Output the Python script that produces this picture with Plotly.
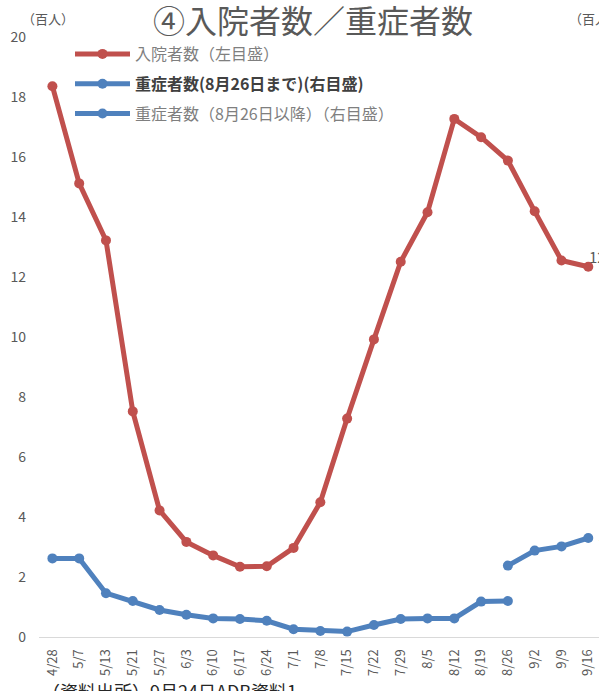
import plotly.graph_objects as go

# Weekly dates
weeks = ["4/28", "5/7", "5/13", "5/21", "5/27", "6/3", "6/10", "6/17", "6/24", "7/1",
         "7/8", "7/15", "7/22", "7/29", "8/5", "8/12", "8/19", "8/26", "9/2", "9/9", "9/16"]

# Hospitalised patients (hundreds, left axis)
hospitalised = [18.36, 15.12, 13.22, 7.52, 4.22, 3.17, 2.72, 2.34, 2.36, 2.97,
                4.49, 7.28, 9.92, 12.51, 14.16, 17.27, 16.66, 15.88, 14.19, 12.55, 12.34]

# Severe cases up to 8/26 (hundreds, right axis)
severe_old_weeks = weeks[:18]
severe_old = [1.31, 1.31, 0.73, 0.60, 0.45, 0.37, 0.31, 0.30, 0.27, 0.13,
              0.10, 0.09, 0.20, 0.30, 0.31, 0.31, 0.59, 0.60]

# Severe cases from 8/26 onwards (hundreds, right axis)
severe_new_weeks = weeks[17:]
severe_new = [1.19, 1.44, 1.51, 1.65]

RED = "#C0504D"
BLUE = "#4F81BD"
GREY = "#595959"
FONT = "Noto Sans CJK JP"

fig = go.Figure()

fig.add_trace(go.Scatter(
    x=weeks, y=hospitalised, mode="lines+markers", yaxis="y",
    name='<span style="color:#7f7f7f">入院者数（左目盛）</span>',
    line=dict(color=RED, width=5), marker=dict(color=RED, size=10),
    legendgroup="a",
))
fig.add_trace(go.Scatter(
    x=severe_old_weeks, y=severe_old, mode="lines+markers", yaxis="y2",
    name='<b><span style="color:#404040">重症者数(8月26日まで)(右目盛)</span></b>',
    line=dict(color=BLUE, width=5), marker=dict(color=BLUE, size=10),
    legendgroup="b",
))
fig.add_trace(go.Scatter(
    x=severe_new_weeks, y=severe_new, mode="lines+markers", yaxis="y2",
    name='<span style="color:#7f7f7f">重症者数（8月26日以降）（右目盛）</span>',
    line=dict(color=BLUE, width=5), marker=dict(color=BLUE, size=10),
    legendgroup="c",
))

# Value labels on the latest week
fig.add_annotation(x=weeks[-1], y=hospitalised[-1], yref="y", text=f"{hospitalised[-1]:.1f}",
                   showarrow=False, xanchor="left", yanchor="middle", xshift=-1, yshift=10,
                   font=dict(family=FONT, size=15, color=GREY))
fig.add_annotation(x=severe_new_weeks[-1], y=severe_new[-1], yref="y2", text=f"{severe_new[-1]:.2f}",
                   showarrow=False, xanchor="left", yanchor="middle", xshift=8, yshift=4,
                   font=dict(family=FONT, size=15, color=GREY))

W, H = 599, 691
L, T, B = 39, 37, 53.5
plot_h = H - T - B
plot_w = W - L


def px_x(px):
    return (px - L) / plot_w


def px_y(py):
    return 1 - (py - T) / plot_h


# Axis unit captions
fig.add_annotation(text="（百人）", xref="paper", yref="paper", x=px_x(48), y=px_y(18),
                   xanchor="center", yanchor="middle", showarrow=False,
                   font=dict(family=FONT, size=13, color=GREY))
fig.add_annotation(text="（百人）", xref="paper", yref="paper", x=px_x(595), y=px_y(18),
                   xanchor="center", yanchor="middle", showarrow=False,
                   font=dict(family=FONT, size=13, color=GREY))

# Source note
fig.add_annotation(text="（資料出所）9月24日ADB資料1", xref="paper", yref="paper",
                   x=px_x(40), y=px_y(677), xanchor="left", yanchor="top", showarrow=False,
                   font=dict(family=FONT, size=18, color="#262626"))

fig.update_layout(
    width=W, height=H,
    margin=dict(l=L, r=0, t=T, b=B),
    paper_bgcolor="white", plot_bgcolor="white",
    font=dict(family=FONT, color=GREY),
    title=dict(text="④入院者数／重症者数", x=313 / W, xanchor="center",
               y=1 - 22 / H, yanchor="middle", yref="container",
               font=dict(family=FONT, size=32, color=GREY)),
    showlegend=True,
    legend=dict(x=px_x(70), y=px_y(37), xanchor="left", yanchor="top",
                bgcolor="rgba(0,0,0,0)", font=dict(family=FONT, size=16, color="#7f7f7f"),
                itemwidth=55, tracegroupgap=6, traceorder="grouped"),
    xaxis=dict(type="category", categoryorder="array", categoryarray=weeks,
               range=[-0.5, 20.4], showgrid=False, zeroline=False,
               showline=True, linecolor="#D9D9D9", linewidth=1,
               tickangle=-90, tickfont=dict(family=FONT, size=13, color=GREY),
               ticks="", ticklabelstandoff=6),
    yaxis=dict(range=[0, 20], dtick=2, showgrid=False, zeroline=False, showline=False,
               tickfont=dict(family=FONT, size=14, color=GREY), ticks="",
               ticklabelstandoff=12),
    yaxis2=dict(range=[0, 10], overlaying="y", side="right", showgrid=False,
                zeroline=False, showline=False, showticklabels=False),
)

fig.write_html("out.html")
